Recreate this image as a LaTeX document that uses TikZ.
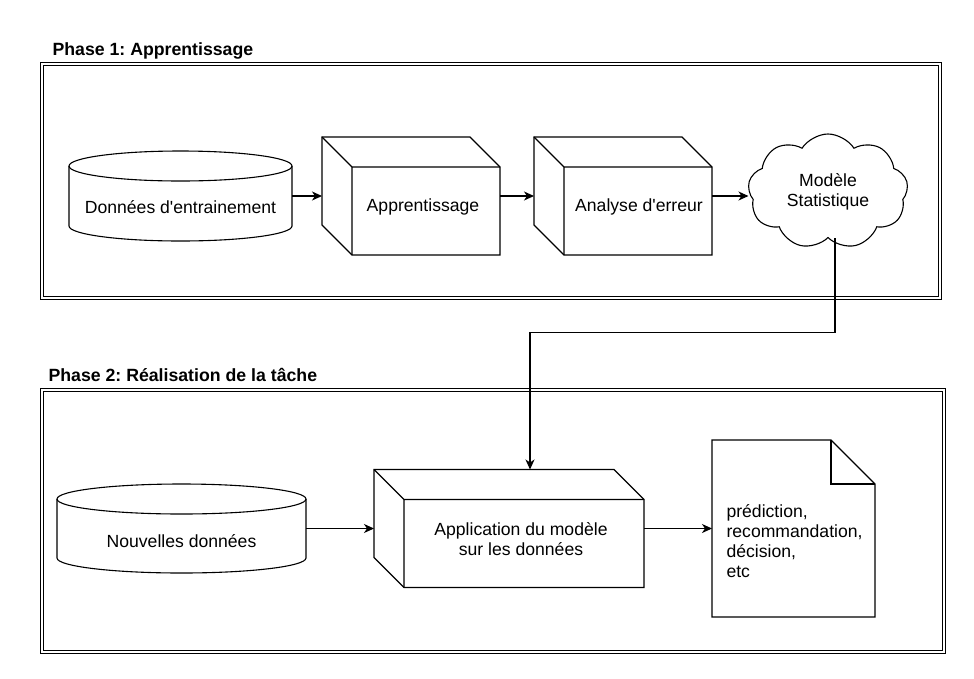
\documentclass[tikz,border=0pt]{standalone}
\usepackage{fontspec}
\setmainfont{Liberation Sans}
\usetikzlibrary{arrows.meta, shapes.symbols, calc}
\frenchspacing

\tikzset{
  txt/.style={font=\fontsize{17.6}{20}\selectfont},
  titletxt/.style={font=\fontsize{17.7}{20}\selectfont\bfseries, anchor=base west, inner sep=0pt},
  frame/.style={draw, double, double distance=2pt, line width=1pt},
  box/.style={inner sep=0pt, outer sep=0pt, txt},
  boxtxt/.style={txt, inner sep=0pt, align=center},
  flow/.style={-{Stealth[length=10pt, width=9pt, inset=3pt]}, line width=1.1pt},
}

\begin{document}
\begin{tikzpicture}[x=1pt, y=-1pt, line width=1.1pt, line join=miter]
\useasboundingbox (0,0) rectangle (974,678);

% cadres des phases
\draw[frame] (42,64) rectangle (940,298);
\draw[frame] (42,390) rectangle (944,652);
\node[titletxt] (title1) at (52,55) {Phase 1: Apprentissage};
\node[titletxt] (title2) at (48,381) {Phase 2: Réalisation de la tâche};

% phase 1
\node[box, minimum width=223pt, minimum height=90pt,
  label={[boxtxt, yshift=-11pt]center:Données d\textquotesingle entrainement}] (train) at (180.5,196) {};
\node[box, minimum width=178pt, minimum height=118pt,
  label={[boxtxt, xshift=12pt, yshift=-11pt]center:Apprentissage}] (learn) at (411,196) {};
\node[box, minimum width=178pt, minimum height=118pt,
  label={[boxtxt, xshift=16pt, yshift=-11pt]center:Analyse d\textquotesingle erreur}] (error) at (623,196) {};
\node[txt, draw, cloud, cloud puffs=9, cloud puff arc=115, cloud ignores aspect,
  minimum width=160pt, minimum height=115pt, inner sep=0pt, align=center] (model) at (828,191.5) {Modèle\\Statistique};

% phase 2
\node[box, minimum width=249pt, minimum height=89pt,
  label={[boxtxt, yshift=-12.5pt]center:Nouvelles données}] (new) at (181.5,528.5) {};
\node[box, minimum width=270pt, minimum height=118pt,
  label={[boxtxt, xshift=12pt, yshift=-11pt]center:{Application du modèle\\sur les données}}] (apply) at (509,528.5) {};
\node[box, minimum width=163pt, minimum height=177pt] (out) at (793.5,528.5) {};
\node[txt, anchor=west, align=left, inner sep=0pt] (outtxt) at ($(out.west)+(14,12.5)$)
  {prédiction,\\recommandation,\\décision,\\etc};

% cylindres
\foreach \n/\rx in {train/111.5, new/124.5}{
  \draw ($(\n.north)+(0,15)$) ellipse [x radius=\rx pt, y radius=15pt];
  \draw ($(\n.north west)+(0,15)$) -- ($(\n.south west)+(0,-15)$)
    arc[start angle=180, end angle=360, x radius=\rx pt, y radius=15pt]
    -- ($(\n.north east)+(0,15)$);
}

% cubes
\foreach \n in {learn, error, apply}{
  \draw (\n.north west) -- ($(\n.north east)+(-30,0)$) -- ($(\n.north east)+(0,30)$)
    -- (\n.south east) -- ($(\n.south west)+(30,0)$) -- ($(\n.south west)+(0,-30)$) -- cycle;
  \draw (\n.north west) -- ($(\n.north west)+(30,30)$) -- ($(\n.north east)+(0,30)$)
    ($(\n.north west)+(30,30)$) -- ($(\n.south west)+(30,0)$);
}

% document
\draw (out.north west) -- ($(out.north east)+(-44,0)$) -- ($(out.north east)+(0,44)$)
  -- (out.south east) -- (out.south west) -- cycle;
\draw ($(out.north east)+(-44,0)$) -- ($(out.north east)+(-44,44)$) -- ($(out.north east)+(0,44)$);

% fleches
\draw[flow] (train.east) -- (learn.west);
\draw[flow] (learn.east) -- (error.west);
\draw[flow] (error.east) -- (error.east -| model.west);
\draw[flow] ($(model.south)+(7,0)$) -- ++(0,94) -| ($(apply.north)+(21,0)$);
\draw[flow] (new.east) -- (apply.west);
\draw[flow] (apply.east) -- (out.west);
\end{tikzpicture}
\end{document}
